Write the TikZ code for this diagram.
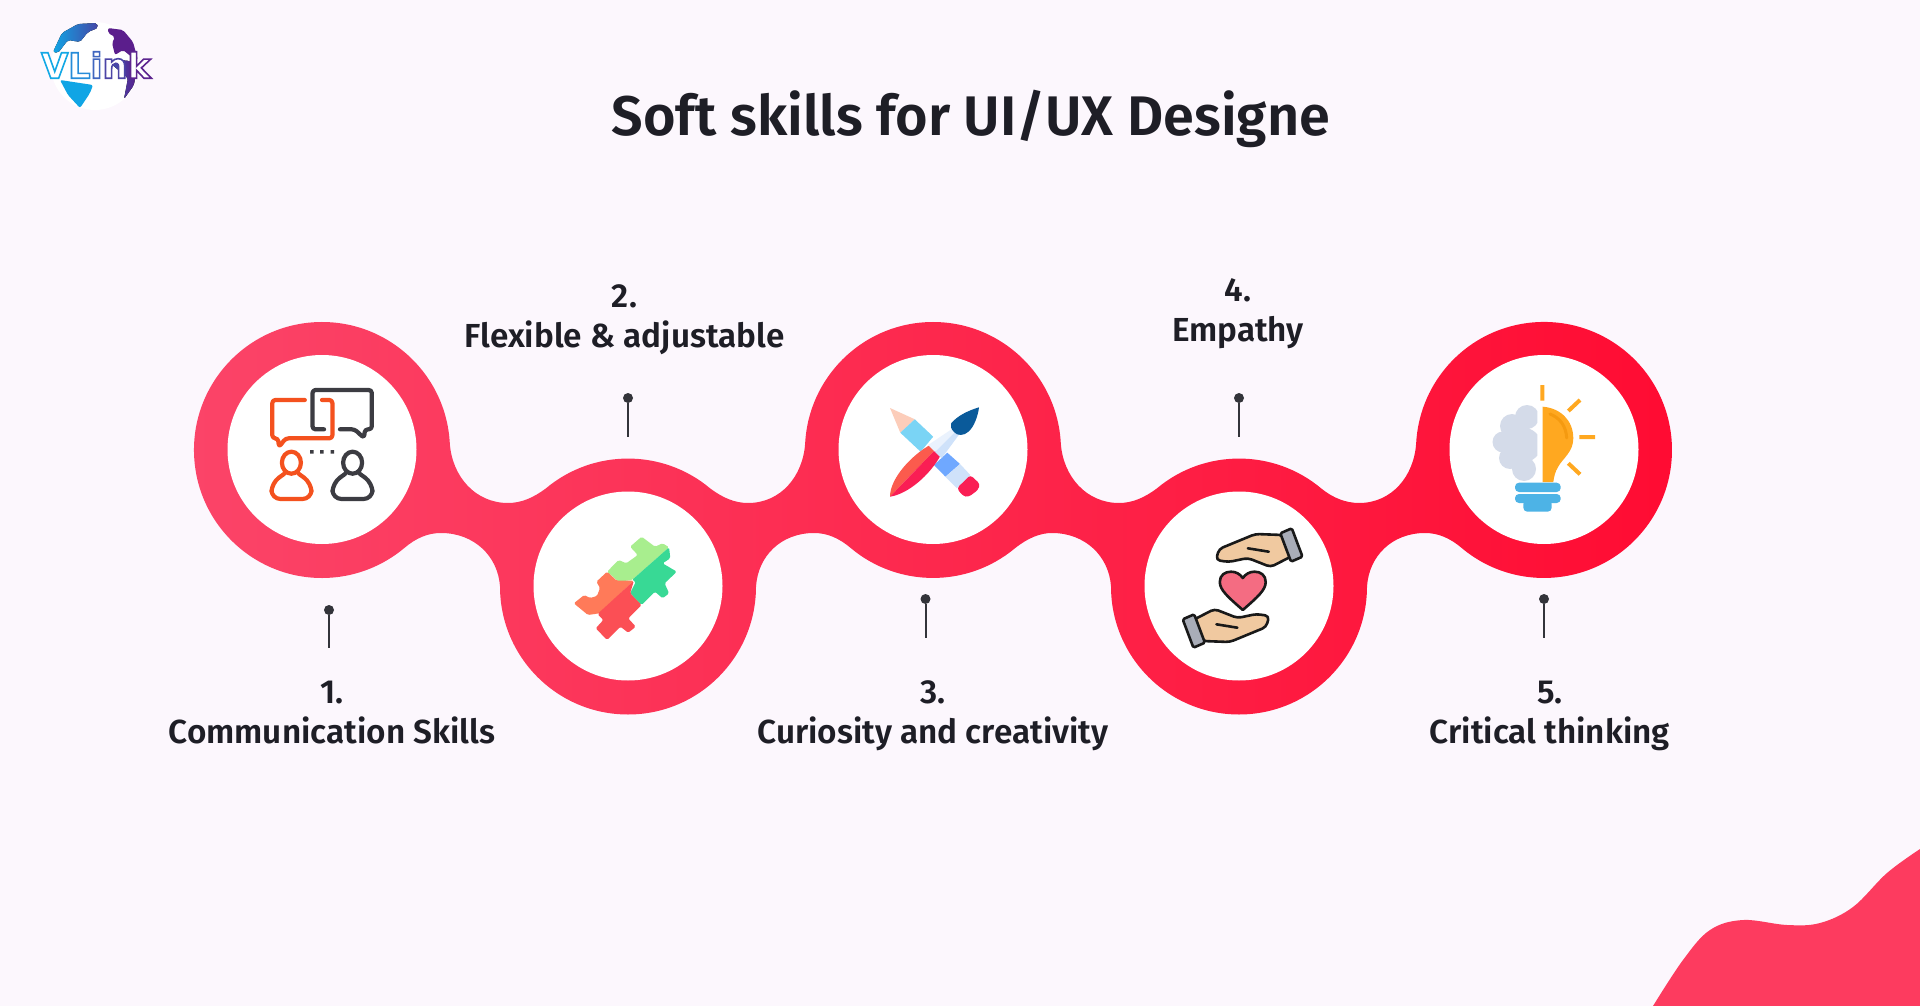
\documentclass[tikz,border=0pt]{standalone}
\usepackage{fontspec}
\setmainfont{Fira Sans}[BoldFont={Fira Sans SemiBold}]
\newfontfamily\logofont{DejaVu Sans}
\usepackage{tikz}
\definecolor{pagetint}{HTML}{FCF7FD}
\definecolor{pagecool}{HTML}{F9F8FD}
\definecolor{inkdark}{HTML}{1E1E26}
\definecolor{stemgrey}{HTML}{33343A}
\definecolor{bandleft}{HTML}{FB4468}
\definecolor{bandmid}{HTML}{FF2145}
\definecolor{bandright}{HTML}{FF0B32}
\definecolor{blobred}{HTML}{FD3B5F}
\definecolor{talkorange}{HTML}{F4511E}
\definecolor{talkgrey}{HTML}{3C3C42}
\definecolor{logoblue}{HTML}{10A5E5}
\definecolor{logopurple}{HTML}{5B1E8C}
\definecolor{puzzlelime}{HTML}{A8EE8E}
\definecolor{puzzlegreen}{HTML}{38D995}
\definecolor{puzzlecoral}{HTML}{FF7A59}
\definecolor{puzzlered}{HTML}{FB4F55}
\definecolor{toolpeach}{HTML}{FCCDBA}
\definecolor{toolsky}{HTML}{7AD4F5}
\definecolor{toolblue}{HTML}{6FA8FF}
\definecolor{toolpale}{HTML}{CFE2FA}
\definecolor{toolpink}{HTML}{FA1E54}
\definecolor{toolcoral}{HTML}{FB5B4D}
\definecolor{toolwhite}{HTML}{EAF2FD}
\definecolor{toolnavy}{HTML}{0A5A9A}
\definecolor{skin}{HTML}{F0C9A0}
\definecolor{cuffgrey}{HTML}{A9ADB8}
\definecolor{heartpink}{HTML}{F46C82}
\definecolor{brainblue}{HTML}{D4DBE9}
\definecolor{bulbamber}{HTML}{FFA820}
\definecolor{bulbdeep}{HTML}{F59A10}
\definecolor{bulbblue}{HTML}{4DB3E6}
\newcommand{\logoletter}[2]{\special{pdf:literal 2 Tr 1.6 w #1 RG}#2}
\tikzset{
	skillhole/.style={circle,fill=white,minimum size=189pt,inner sep=0pt},
	pindot/.style={circle,fill=stemgrey,minimum size=10pt,inner sep=0pt},
	stemline/.style={draw=stemgrey,line width=2pt},
	skilllabel/.style={align=center,text=inkdark,font=\fontsize{33.3}{40}\selectfont\bfseries},
	talkline/.style={line width=4.2pt,line cap=round,line join=round,rounded corners=3pt},
	handline/.style={draw=black!90,line width=2.6pt,line join=round}
}
\begin{document}
\begin{tikzpicture}[x=1pt,y=-1pt]
	\useasboundingbox (0,0) rectangle (1920,1006);
	\fill[left color=pagetint,middle color=pagecool,right color=pagetint] (0,0) rectangle (1920,1006);
	% corner blob
	\fill[blobred] plot[smooth,tension=.6] coordinates {(1653,1006) (1683,960) (1710,930) (1743,920) (1787,925) (1820,923) (1853,907) (1887,873) (1920,849)} -- (1920,1006) -- cycle;

	% logo
	\node[circle,fill=white,minimum size=88pt,inner sep=0pt] (logodisk) at (95,66) {};
	\fill[left color=logoblue,right color=logopurple!70!logoblue,rounded corners=2pt] (53,52) -- (62,33) -- (78,24) -- (97,23) -- (98,28) -- (88,32) -- (80,42) -- (68,40) -- (58,53) -- cycle;
	\fill[logopurple,rounded corners=2pt] (108,28) -- (123,30) -- (133,42) -- (138,60) -- (133,58) -- (123,50) -- (115,55) -- (112,43) -- (115,37) -- (108,33) -- cycle;
	\fill[left color=logopurple!60!logoblue,right color=logopurple,rounded corners=2pt] (110,63) -- (125,60) -- (137,64) -- (134,85) -- (124,99) -- (128,78) -- cycle;
	\fill[logoblue,rounded corners=2pt] (60,80) -- (93,85) -- (90,93) -- (80,108) -- (68,95) -- cycle;
	\node[text=white,inner sep=0pt,font=\fontsize{35}{35}\selectfont\logofont\bfseries] (logotext) at (96,65) {\logoletter{0.07 0.66 0.9}{V}\logoletter{0.15 0.55 0.85}{L}\logoletter{0.25 0.4 0.75}{i}\logoletter{0.3 0.27 0.65}{n}\logoletter{0.36 0.14 0.56}{k}\special{pdf:literal 0 Tr}};

	\node[inner sep=0pt,text=inkdark,font=\fontsize{55.8}{60}\selectfont\bfseries] (title) at (971,119) {Soft skills for UI/UX Designe};

	% band
	\path[left color=bandleft,middle color=bandmid,right color=bandright]
		(449.8,443.3) arc[start angle=-3,end angle=-310,radius=128]
		.. controls (416,538) and (428,533) .. (441,533) .. controls (474,533) and (498,556) .. (500,586.5)
		arc[start angle=180,end angle=0,radius=128]
		.. controls (758,556) and (781,533) .. (814,533) .. controls (827,533) and (839,538) .. (850.7,548)
		arc[start angle=130,end angle=50,radius=128]
		.. controls (1028,538) and (1040,533) .. (1052,533) .. controls (1085,533) and (1109,556) .. (1111,586.5)
		arc[start angle=180,end angle=0,radius=128]
		.. controls (1369,556) and (1392,533) .. (1425,533) .. controls (1438,533) and (1450,538) .. (1461.7,548)
		arc[start angle=130,end angle=-177,radius=128]
		.. controls (1414,476) and (1392,503) .. (1359,503) .. controls (1346,503) and (1333,498) .. (1321.3,488.5)
		arc[start angle=-50,end angle=-130,radius=128]
		.. controls (1144,498) and (1132,503) .. (1119,503) .. controls (1086,503) and (1063,476) .. (1060.8,443.3)
		arc[start angle=-3,end angle=-177,radius=128]
		.. controls (803,476) and (781,503) .. (748,503) .. controls (735,503) and (723,498) .. (710.3,488.5)
		arc[start angle=-50,end angle=-130,radius=128]
		.. controls (533,498) and (521,503) .. (508,503) .. controls (475,503) and (452,476) .. (449.8,443.3) -- cycle;

	\node[skillhole] (hole1) at (322,449.5) {};
	\node[skillhole] (hole2) at (628,586) {};
	\node[skillhole] (hole3) at (933,449.5) {};
	\node[skillhole] (hole4) at (1239,586) {};
	\node[skillhole] (hole5) at (1544,449.5) {};

	% pins
	\node[pindot] (pin1) at (329,610) {};
	\node[pindot] (pin2) at (628,398) {};
	\node[pindot] (pin3) at (925.5,599) {};
	\node[pindot] (pin4) at (1239,398) {};
	\node[pindot] (pin5) at (1544,599) {};
	\coordinate (foot1) at (329,648);
	\coordinate (foot2) at (628,437);
	\coordinate (foot3) at (925.5,638);
	\coordinate (foot4) at (1239,437);
	\coordinate (foot5) at (1544,638);
	\draw[stemline] (pin1) -- (foot1);
	\draw[stemline] (pin2) -- (foot2);
	\draw[stemline] (pin3) -- (foot3);
	\draw[stemline] (pin4) -- (foot4);
	\draw[stemline] (pin5) -- (foot5);

	% labels
	\node[skilllabel] (skill1) at (332,713) {1.\\Communication Skills};
	\node[skilllabel] (skill2) at (624.5,320) {2.\\Flexible \& adjustable};
	\node[skilllabel] (skill3) at (933,716) {3.\\Curiosity and creativity};
	\node[skilllabel] (skill4) at (1238,314) {4.\\Empathy};
	\node[skilllabel] (skill5) at (1550,716) {5.\\Critical thinking};

	% icon: talk
	\draw[talkline,draw=talkorange] (304.8,400) -- (272.3,400) -- (272.3,438.3) -- (278,438.3) -- (279,447) -- (285.7,438.3) -- (332.4,438.3) -- (332.4,400) -- (322,400);
	\draw[talkline,draw=talkgrey] (324,429.3) -- (312.5,429.3) -- (312.5,390) -- (371.8,390) -- (371.8,429.3) -- (365,429.3) -- (364,438) -- (354.6,429.3) -- (340,429.3);
	\fill[talkgrey] (310,450) rectangle +(3.5,3.5) (320.2,450) rectangle +(3.5,3.5) (330.6,450) rectangle +(3.5,3.5);
	\draw[line width=4.2pt,draw=talkorange] (291.4,462.7) ellipse[x radius=9.5,y radius=11];
	\draw[line width=4.2pt,draw=talkgrey] (352.6,462.7) ellipse[x radius=9.5,y radius=11];
	\draw[talkline,draw=talkorange,rounded corners=9pt] (284,474) -- (271.5,483) -- (271.5,499) -- (311.5,499) -- (311.5,483) -- (299,474);
	\draw[talkline,draw=talkgrey,rounded corners=9pt] (345,474) -- (332.5,483) -- (332.5,499) -- (372.5,499) -- (372.5,483) -- (360,474);

	% icon: puzzle
	\fill[puzzlelime,rounded corners=1.5pt] (607.1,571.7) -- (618.6,560) -- (626.3,563.3) -- (637.8,555) -- (630.1,546.7) -- (641.6,536.7) -- (655,546.7) -- (662.6,543.3) -- (669.1,547.3) -- (632,580) -- (618.6,581.7) -- cycle;
	\fill[puzzlegreen,rounded corners=1.5pt] (669.1,547.3) -- (670.3,558.3) -- (662.6,563.3) -- (676.8,571.7) -- (664.6,583.3) -- (669.1,593.3) -- (662.6,598.3) -- (655,591.7) -- (641.6,605) -- (630.1,593.3) -- (635.8,581.7) -- (632,580) -- cycle;
	\fill[puzzlecoral,rounded corners=1.5pt] (607.1,571.7) -- (616.7,580.7) -- (633.9,580.7) -- (599.5,613.3) -- (588,615) -- (573.8,603.3) -- (584.2,595) -- (590,598) -- (597,596) -- (600,588) -- (596.4,581.7) -- cycle;
	\fill[puzzlered,rounded corners=1.5pt] (633.9,580.7) -- (630.1,593.3) -- (641.6,605) -- (628.2,618.3) -- (635.8,626.7) -- (628.2,632.7) -- (620.5,626.7) -- (607.1,640) -- (595.7,628.3) -- (603.3,620) -- (597.5,614) -- cycle;

	% icon: pencil and brush
	\fill[toolpeach] (890,408) -- (914.8,419.3) -- (900.3,432.7) -- cycle;
	\fill[toolsky] (914.8,419.3) -- (933.2,436.7) -- (920.6,451.7) -- (900.3,432.7) -- cycle;
	\fill[toolblue] (947.3,452.7) -- (960,464) -- (945.4,476.7) -- (934,465) -- cycle;
	\fill[toolpale] (960,464) -- (970.3,475) -- (956.9,488.3) -- (945.4,476.7) -- cycle;
	\fill[toolpink,rounded corners=3pt] (970.3,475) -- (980,484) -- (978,490) -- (968.4,497) -- (963,496) -- (956.9,488.3) -- cycle;
	\fill[toolcoral] (890,496.7) .. controls (890,478) and (912,455) .. (930,445) -- (935,450) -- cycle;
	\fill[toolpink] (890,496.7) .. controls (908,494) and (930,475) .. (940.8,455) -- (935,450) -- cycle;
	\fill[toolwhite] (928.2,445) -- (953,428.3) -- (956,431) -- (935,452) -- cycle;
	\fill[toolpale] (956,431) -- (960,433.3) -- (941.6,458.3) -- (935,452) -- cycle;
	\fill[toolnavy] (951.2,423.3) .. controls (958,415) and (970,410) .. (979,407.3) .. controls (978,416) and (974,427) .. (968.4,431.7) .. controls (964,436) and (957,436) .. (954,432) .. controls (951,429) and (950,426) .. (951.2,423.3) -- cycle;

	% icon: hands and heart
	\foreach \handturn in {0,180} {
		\begin{scope}[rotate around={\handturn:(1242.6,588)}]
			\filldraw[fill=skin,handline,rounded corners=4pt] (1283,535) -- (1255.4,534) -- (1219,549) -- (1216,560) -- (1228.6,562) -- (1247.8,558) -- (1270.7,567) -- (1292,556) -- cycle;
			\draw[handline,line cap=round] (1247.8,548.3) -- (1268.8,551.7);
			\filldraw[fill=cuffgrey,handline,rounded corners=1.5pt] (1280.3,533.3) -- (1291.8,528.3) -- (1302.5,556.7) -- (1291,561.7) -- cycle;
		\end{scope}
	}
	\filldraw[fill=heartpink,handline] (1242.8,610) .. controls (1228,597) and (1219.8,590) .. (1219.8,582) .. controls (1219.8,575) and (1225,571.7) .. (1231,571.7) .. controls (1236,571.7) and (1240,574) .. (1242.8,578) .. controls (1245.6,574) and (1249.6,571.7) .. (1254.6,571.7) .. controls (1260.6,571.7) and (1265.7,575) .. (1265.7,582) .. controls (1265.7,590) and (1257.6,597) .. (1242.8,610) -- cycle;

	% icon: bulb
	\begin{scope}
		\clip (1488,400) rectangle (1537.3,483);
		\fill[brainblue] (1527,417) circle[radius=12] (1512,426) circle[radius=12] (1503,442) circle[radius=10.5] (1510,458) circle[radius=11] (1524,469) circle[radius=12] (1524,445) circle[radius=17];
	\end{scope}
	\fill[bulbamber] (1542.7,406.7) .. controls (1560,408) and (1573.3,420) .. (1573.3,438.3) .. controls (1573.3,452) and (1563,458) .. (1558,467) .. controls (1555,472) and (1554,477) .. (1553.3,482) -- (1542.7,482) -- cycle;
	\draw[line width=3pt,draw=bulbdeep,line cap=round] (1550,414) .. controls (1560,418) and (1566,426) .. (1566.7,438);
	\fill[bulbblue,rounded corners=4pt] (1515,482.7) rectangle (1560.7,492);
	\fill[bulbblue,rounded corners=4pt] (1515,494) rectangle (1560.7,503);
	\fill[bulbblue,rounded corners=4pt] (1523.3,500) rectangle (1551.7,511.7);
	\draw[line width=4pt,draw=bulbamber] (1542.3,385) -- (1542.3,400.7) (1568.3,411) -- (1580,400) (1579.3,437) -- (1595,437) (1568.3,463.3) -- (1580,474.3);
\end{tikzpicture}
\end{document}
